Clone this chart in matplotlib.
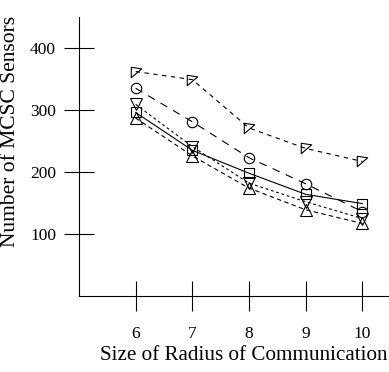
import numpy as np
import matplotlib
matplotlib.use("Agg")
import matplotlib.pyplot as plt
from matplotlib.path import Path

plt.rcParams['font.family'] = ['Liberation Serif', 'DejaVu Serif']

# data
radius      = [6, 7, 8, 9, 10]
s_flag      = [362, 349, 271, 238, 217]
s_circle    = [335, 281, 223, 181, 136]
s_square    = [296, 235, 198, 164, 149]
s_tridown   = [309, 241, 182, 152, 125]
s_triup     = [287, 226, 174, 139, 117]
yticks      = [100, 200, 300, 400]

flag = Path([(-1, 1), (1, 0.7), (-1, -1), (-1, 1)],
            [Path.MOVETO, Path.LINETO, Path.LINETO, Path.CLOSEPOLY])

fig = plt.figure(figsize=(3.89, 3.72), dpi=100)
ax = fig.add_axes([79/389, 76/372, 310/389, 279/372])

style = dict(color='black', lw=0.8, mfc='none', mec='black', mew=0.8)
ax.plot(radius, s_flag, marker=flag, ms=7.5, dashes=(4, 4), **style)
ax.plot(radius, s_circle, marker='o', ms=7.5, dashes=(7, 6), **style)
ax.plot(radius, s_square, marker='s', ms=7, ls='-', **style)
ax.plot(radius, s_tridown, marker='v', ms=8, dashes=(2.5, 2.5), **style)
ax.plot(radius, s_triup, marker='^', ms=8, dashes=(4, 3), **style)

ax.set_xlim(5, 10.47)
ax.set_ylim(0, 450)
ax.set_xticks(radius)
ax.set_yticks(yticks)
ax.spines['top'].set_visible(False)
ax.spines['right'].set_visible(False)
for s in ['left', 'bottom']:
    ax.spines[s].set_linewidth(0.8)
ax.tick_params(axis='both', direction='inout', length=21, width=0.8, labelsize=12.5)
ax.tick_params(axis='y', pad=6)
ax.tick_params(axis='x', pad=11)

ax.set_xlabel('Size of Radius of Communication', fontsize=15.2)
ax.xaxis.set_label_coords(0.53, -0.178)
ax.set_ylabel('Number of MCSC Sensors', fontsize=15.5)
ax.yaxis.set_label_coords(-0.19, 0.59)

fig.savefig('out.png', dpi=100)
